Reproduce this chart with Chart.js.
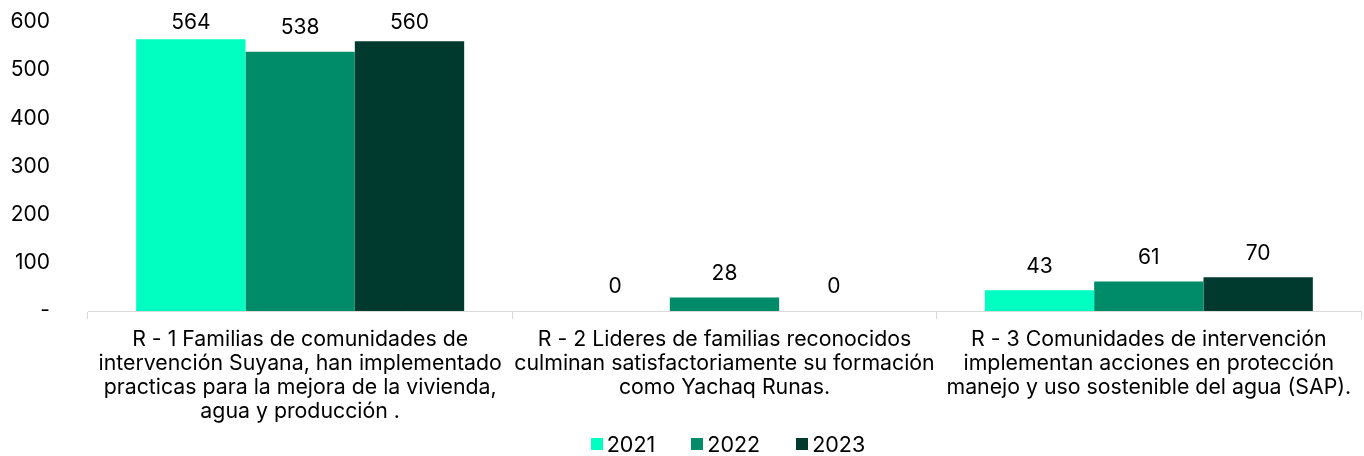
<!DOCTYPE html>
<html lang="es">
<head>
  <meta charset="UTF-8">
  <title>Resultados 2021-2023</title>
  <script src="https://cdn.jsdelivr.net/npm/chart.js"></script>
  <style>
    html, body { margin: 0; padding: 0; background: #fff; }
    #wrap { width: 1364px; height: 435px; }
    #legend { width: 1364px; height: 18px; display: flex; justify-content: center; align-items: center; gap: 36px;
              font: 21.5px Inter, "Noto Sans", sans-serif; color: #000; padding-left: 92px; box-sizing: border-box; }
    #legend span.item { display: flex; align-items: center; }
    #legend span.box { width: 12px; height: 12px; margin-right: 4px; display: inline-block; }
  </style>
</head>
<body>
  <div id="wrap"><canvas id="chart"></canvas></div>
  <div id="legend"></div>
  <script>
    // categories (already wrapped like the original)
    const categories = [
      ['R - 1 Familias de comunidades de', 'intervención Suyana, han implementado', 'practicas para la mejora de la vivienda,', 'agua y producción .'],
      ['R - 2 Lideres de familias reconocidos', 'culminan satisfactoriamente su formación', 'como Yachaq Runas.'],
      ['R - 3 Comunidades de intervención', 'implementan acciones en protección', 'manejo y uso sostenible del agua (SAP).']
    ];
    const years = ['2021', '2022', '2023'];
    const values2021 = [564, 0, 43];
    const values2022 = [538, 28, 61];
    const values2023 = [560, 0, 70];
    const yTicks = [0, 100, 200, 300, 400, 500, 600];

    const colors = ['#00ffc0', '#008c69', '#003a2e'];
    const fontFamily = 'Inter, "Noto Sans", sans-serif';
    const font = { family: fontFamily, size: 21 };
    const xFont = { family: fontFamily, size: 21.3, lineHeight: 24 / 21.3 };

    // value labels above every bar (kept inside the plot area like Excel does)
    const valueLabels = {
      id: 'valueLabels',
      afterDatasetsDraw(chart) {
        const ctx = chart.ctx;
        ctx.save();
        ctx.font = font.size + 'px ' + font.family;
        ctx.fillStyle = '#000';
        ctx.textAlign = 'center';
        ctx.textBaseline = 'middle';
        chart.data.datasets.forEach((ds, i) => {
          chart.getDatasetMeta(i).data.forEach((bar, j) => {
            const y = Math.max(bar.y - 24, chart.chartArea.top + 1);
            ctx.fillText(ds.data[j], bar.x, y);
          });
        });
        ctx.restore();
      }
    };

    const chart = new Chart(document.getElementById('chart'), {
      type: 'bar',
      data: {
        labels: categories,
        datasets: [
          { label: years[0], data: values2021, backgroundColor: colors[0] },
          { label: years[1], data: values2022, backgroundColor: colors[1] },
          { label: years[2], data: values2023, backgroundColor: colors[2] }
        ]
      },
      options: {
        responsive: true,
        maintainAspectRatio: false,
        animation: false,
        layout: { padding: { left: 10, right: 3, top: 22, bottom: 2 } },
        datasets: { bar: { barPercentage: 1, categoryPercentage: 0.773 } },
        plugins: {
          legend: { display: false },
          tooltip: { enabled: false }
        },
        scales: {
          x: {
            grid: { display: true, drawOnChartArea: false, offset: true, tickLength: 8, color: '#d9d9d9' },
            border: { color: '#d9d9d9' },
            ticks: { font: xFont, color: '#000', maxRotation: 0, autoSkip: false, padding: 9 },
            afterFit: (axis) => { axis.paddingLeft = 0; axis.paddingRight = 0; }
          },
          y: {
            min: yTicks[0],
            max: yTicks[yTicks.length - 1],
            grid: { display: false, drawTicks: false },
            border: { display: false },
            afterBuildTicks: (axis) => { axis.ticks = yTicks.map(v => ({ value: v })); },
            afterFit: (axis) => { axis.width = 78; axis.paddingTop = 0; axis.paddingBottom = 0; },
            ticks: {
              font: font,
              color: '#000',
              padding: 38,
              callback: (v) => v === 0 ? '-' : v
            }
          }
        }
      },
      plugins: [valueLabels]
    });

    // legend under the canvas
    const legend = document.getElementById('legend');
    chart.data.datasets.forEach((ds) => {
      const item = document.createElement('span');
      item.className = 'item';
      item.innerHTML = '<span class="box" style="background:' + ds.backgroundColor + '"></span>' + ds.label;
      legend.appendChild(item);
    });
  </script>
</body>
</html>
